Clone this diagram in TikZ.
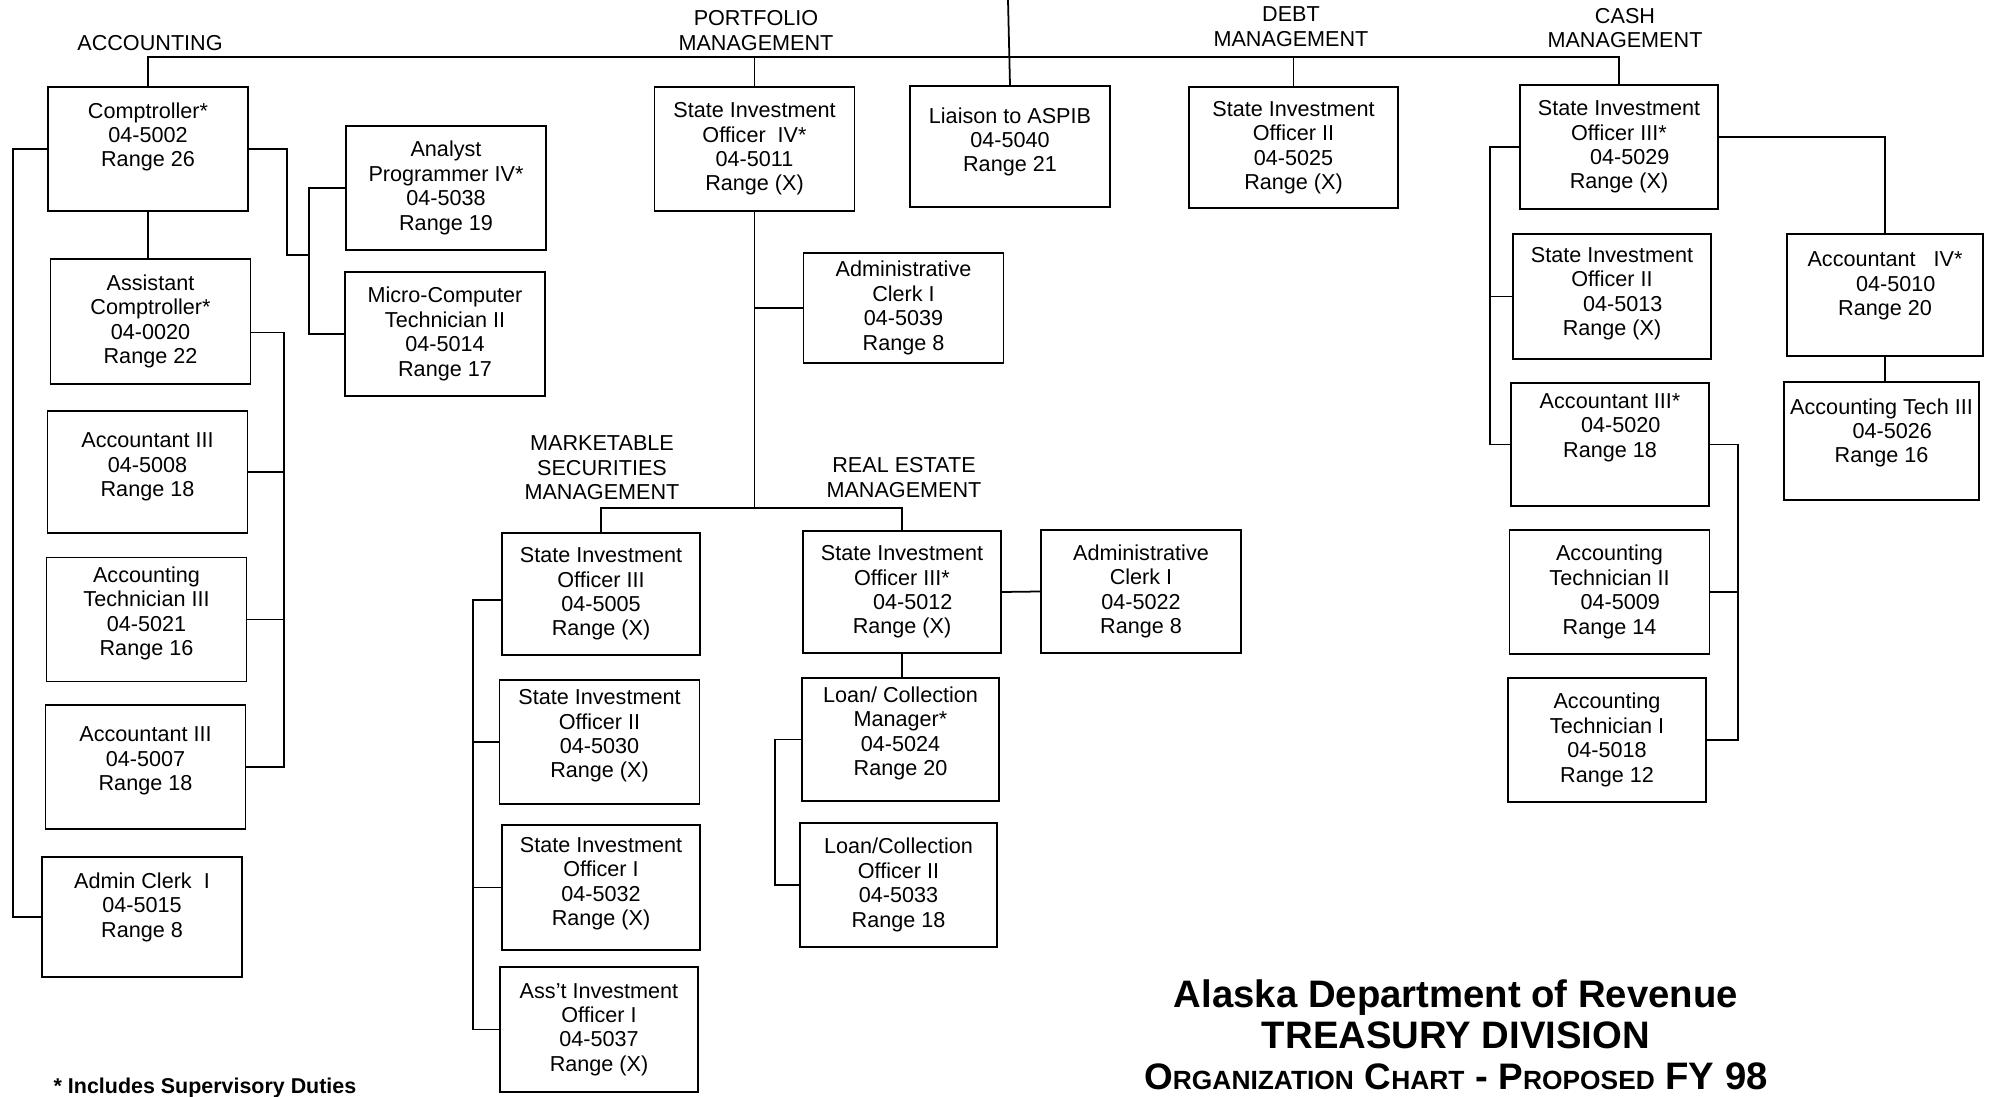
\documentclass[tikz,border=0pt]{standalone}
\usepackage{fontspec}
\setmainfont{Liberation Sans}
\usetikzlibrary{positioning}
\newcommand{\numshift}{\hspace*{1em}}
\newcommand{\capsc}[2]{{\fontsize{21}{24}\selectfont #1}{\fontsize{15}{24}\selectfont #2}}
\tikzset{
  post/.style={rectangle, draw, line width=1pt, minimum width=4cm, minimum height=2.48cm,
    align=center, inner sep=1pt, font=\fontsize{12.3}{13.9}\selectfont},
  lift/.style={text depth=#1},
  head/.style={align=center, inner sep=0pt, font=\fontsize{12.3}{13.9}\selectfont},
  link/.style={line width=1pt},
  titletext/.style={align=center, inner sep=0pt, font=\bfseries\fontsize{21.8}{23.5}\selectfont},
  note/.style={inner sep=0pt, font=\bfseries\fontsize{12.2}{14}\selectfont},
}
\begin{document}
\begin{tikzpicture}[x=0.02cm, y=-0.02cm]
\useasboundingbox (0,0) rectangle (1992,1097);

\node[head] (hacc) at (150,43) {ACCOUNTING};
\node[head] (hport) at (756,30.5) {PORTFOLIO\\MANAGEMENT};
\node[head] (hdebt) at (1291,26.5) {DEBT\\MANAGEMENT};
\node[head] (hcash) at (1625,28) {CASH\\MANAGEMENT};
\node[head] (hmkt) at (602,468) {MARKETABLE\\SECURITIES\\MANAGEMENT};
\node[head] (hre) at (904,477.5) {REAL ESTATE\\MANAGEMENT};

\node[post, lift=0.57cm] (comp) at (148,149) {Comptroller*\\04-5002\\Range 26};
\node[post, minimum height=2.5cm] (asst) at (150.5,321.5) {Assistant\\Comptroller*\\04-0020\\Range 22};
\node[post, lift=0.29cm, minimum height=2.44cm] (acc8) at (147.5,472) {Accountant III\\04-5008\\Range 18};
\node[post, lift=0.33cm] (act3a) at (146.5,619.5) {Accounting\\Technician III\\04-5021\\Range 16};
\node[post, lift=0.33cm] (acc7) at (145.5,767) {Accountant III\\04-5007\\Range 18};
\node[post, lift=0.49cm, minimum height=2.4cm] (aclk15) at (142,917) {Admin Clerk~ I\\04-5015\\Range 8};
\node[post] (anlst) at (446,188) {Analyst\\Programmer IV*\\04-5038\\Range 19};
\node[post] (micro) at (445,334) {Micro-Computer\\Technician II\\04-5014\\Range 17};

\node[post] (sio4) at (754.5,149) {State Investment\\Officer~ IV*\\04-5011\\Range (X)};
\node[post, lift=0.27cm, minimum height=2.42cm] (liaison) at (1010,146.5) {Liaison to ASPIB\\04-5040\\Range 21};
\node[post, minimum height=2.2cm] (aclk39) at (903.5,308) {Administrative\\Clerk I\\04-5039\\Range 8};
\node[post, minimum width=4.18cm, minimum height=2.42cm] (dsio2) at (1293.5,147.5) {State Investment\\Officer II\\04-5025\\Range (X)};

\node[post, minimum width=3.96cm] (csio3) at (1619,147) {State Investment\\Officer III*\\\numshift 04-5029\\Range (X)};
\node[post, lift=0.21cm, minimum width=3.96cm, minimum height=2.5cm] (csio2) at (1612,296.5) {State Investment\\Officer II\\\numshift 04-5013\\Range (X)};
\node[post, lift=0.77cm, minimum width=3.96cm, minimum height=2.46cm] (acc20) at (1610,444.5) {Accountant III*\\\numshift 04-5020\\Range 18};
\node[post] (act2) at (1609.5,592) {Accounting\\Technician II\\\numshift 04-5009\\Range 14};
\node[post, minimum width=3.96cm] (act1) at (1607,740) {Accounting\\Technician I\\04-5018\\Range 12};
\node[post, lift=0.45cm, minimum width=3.92cm, minimum height=2.44cm] (acc4) at (1885,295) {Accountant~~~IV*\\\numshift 04-5010\\Range 20};
\node[post, lift=0.41cm, minimum width=3.9cm, minimum height=2.36cm] (act3c) at (1881.5,441) {Accounting Tech III\\\numshift 04-5026\\Range 16};

\node[post, minimum width=3.96cm, minimum height=2.44cm] (msio3) at (601,594) {State Investment\\Officer III\\04-5005\\Range (X)};
\node[post, lift=0.33cm] (msio2) at (599.5,742) {State Investment\\Officer II\\04-5030\\Range (X)};
\node[post, lift=0.25cm, minimum width=3.96cm, minimum height=2.5cm] (msio1) at (601,887.5) {State Investment\\Officer I\\04-5032\\Range (X)};
\node[post, minimum width=3.96cm, minimum height=2.5cm] (masst) at (599,1029.5) {Ass't Investment\\Officer I\\04-5037\\Range (X)};
\node[post, minimum width=3.96cm, minimum height=2.44cm] (rsio3) at (902,592) {State Investment\\Officer III*\\\numshift 04-5012\\Range (X)};
\node[post, minimum height=2.46cm] (aclk22) at (1141,591.5) {Administrative\\Clerk I\\04-5022\\Range 8};
\node[post, lift=0.33cm, minimum width=3.94cm, minimum height=2.46cm] (lmgr) at (900.5,739.5) {Loan/ Collection\\Manager*\\04-5024\\Range 20};
\node[post, minimum width=3.94cm] (loff) at (898.5,885) {Loan/Collection\\Officer II\\04-5033\\Range 18};

\node[titletext] (title) at (1456,1035) {Alaska Department of Revenue\\TREASURY DIVISION\\\capsc{O}{RGANIZATION} \capsc{C}{HART} - \capsc{P}{ROPOSED} FY 98};
\node[note] (foot) at (205,1088) {* Includes Supervisory Duties};

\coordinate (top) at (1008,0);
\coordinate (bus) at (1008,57);
\coordinate (pbus) at (754.5,508);

\draw[link] (top) -- (liaison.north);
\draw[link] (comp.north) |- (bus) -| (csio3.north);
\draw[link] (sio4.north) -- (sio4.north |- bus);
\draw[link] (dsio2.north) -- (dsio2.north |- bus);

\draw[link] (comp.south) -- (comp.south |- asst.north);
\draw[link] (comp.west) -- ++(-34,0) |- (aclk15.west);
\draw[link] (comp.east) -- ++(38,0) |- (309,255) coordinate (itj);
\draw[link] (anlst.west) -| (itj) |- (micro.west);
\draw[link] ([yshift=-0.22cm]asst.east) -- ++(33,0) coordinate (arail) |- (acc7.east);
\draw[link] (acc8.east) -- (acc8.east -| arail);
\draw[link] (act3a.east) -- (act3a.east -| arail);

\draw[link] (sio4.south) -- (pbus);
\draw[link] (aclk39.west) -- (aclk39.west -| sio4.south);
\draw[link] (msio3.north) |- (pbus) -| (rsio3.north);
\draw[link] ([yshift=-0.12cm]msio3.west) -- ++(-28,0) coordinate (mrail) |- (masst.west);
\draw[link] (msio2.west) -- (msio2.west -| mrail);
\draw[link] (msio1.west) -- (msio1.west -| mrail);
\draw[link] (rsio3.east) -- (aclk22.west);
\draw[link] (rsio3.south) -- (rsio3.south |- lmgr.north);
\draw[link] (lmgr.west) -- ++(-26,0) |- (loff.west);

\draw[link] (csio3.west) -- ++(-29,0) coordinate (crail) |- (acc20.west);
\draw[link] (csio2.west) -- (csio2.west -| crail);
\draw[link] ([yshift=0.2cm]csio3.east) -| (acc4.north);
\draw[link] (acc4.south) -- (acc4.south |- act3c.north);
\draw[link] (acc20.east) -- ++(28,0) coordinate (rrail) |- (act1.east);
\draw[link] (act2.east) -- (act2.east -| rrail);
\end{tikzpicture}
\end{document}
